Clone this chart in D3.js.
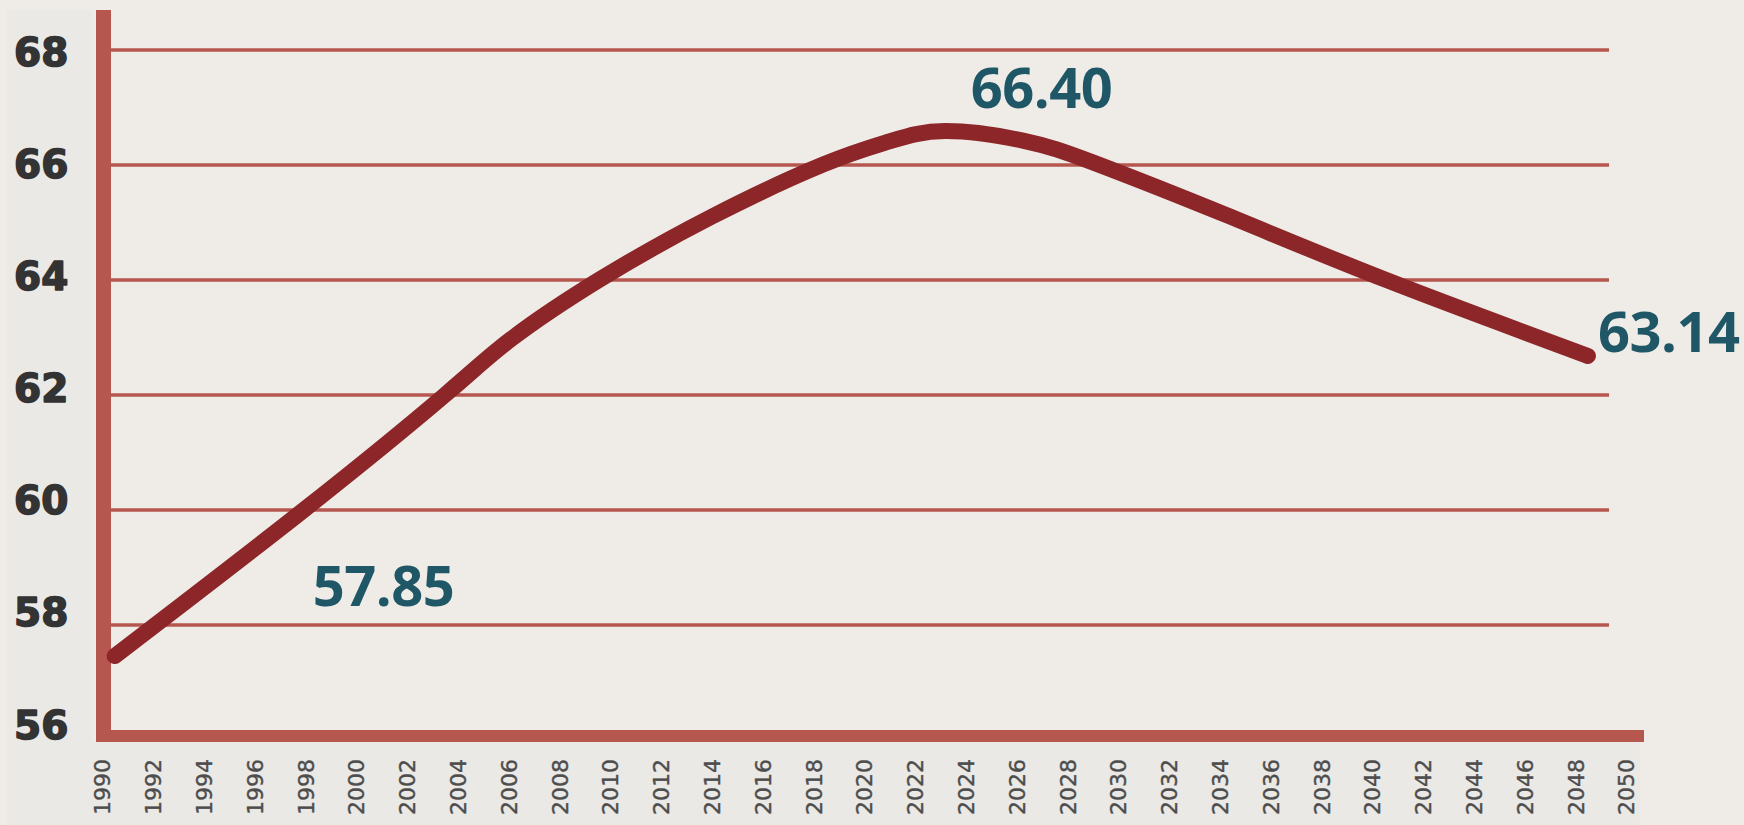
<!DOCTYPE html>
<html>
<head>
<meta charset="utf-8">
<script src="https://cdn.jsdelivr.net/npm/d3@7"></script>
<style>
  html, body { margin: 0; padding: 0; background: #efece8; }
  svg { display: block; }
</style>
</head>
<body>
<svg id="chart" width="1744" height="825"></svg>
<script>
// ---- data ----
const years  = [1990.5, 1998.0, 2003.5, 2006.1, 2009.6, 2014.0, 2018.4, 2021.0, 2023.2, 2026.3, 2029.1, 2034.2, 2040.5, 2048.5];
const values = [57.46, 60.02, 62.0, 62.97, 64.01, 65.10, 66.01, 66.41, 66.59, 66.42, 66.03, 65.14, 64.01, 62.68];
const yTicks = [56, 58, 60, 62, 64, 66, 68];
const xTicks = [1990,1992,1994,1996,1998,2000,2002,2004,2006,2008,2010,2012,2014,2016,2018,2020,2022,2024,2026,2028,2030,2032,2034,2036,2038,2040,2042,2044,2046,2048,2050];
const annoText  = ["57.85", "66.40", "63.14"];
const annoYear  = [1998.3, 2024.2, 2048.9];
const annoValue = [58.33, 66.99, 62.75];

// ---- layout ----
const svg = d3.select("#chart");
const W = 1744, H = 825;
const x = d3.scaleLinear().domain([1990, 2050]).range([102, 1626]);
const y = d3.scaleLinear().domain([56, 68]).range([740, 50]);
const yLab = d3.scaleLinear().domain([56, 68]).range([724, 51]);

const axisColor = "#b6574f";
const lineColor = "#8c2628";
const teal = "#1f5767";

// background bands
svg.append("rect").attr("x", 0).attr("y", 0).attr("width", W).attr("height", H).attr("fill", "#efece8");
svg.append("rect").attr("x", 7).attr("y", 10).attr("width", 85).attr("height", 732).attr("fill", "#ebe9e6");
svg.append("rect").attr("x", 7).attr("y", 742).attr("width", 1633).attr("height", H - 742).attr("fill", "#ebe9e6");

// gridlines
svg.append("g").selectAll("line")
  .data(yTicks.filter(d => d > 56))
  .join("line")
  .attr("x1", 108).attr("x2", 1609)
  .attr("y1", d => y(d)).attr("y2", d => y(d))
  .attr("stroke", axisColor).attr("stroke-width", 3.5);

// axis bars
svg.append("rect").attr("x", 96).attr("y", 10).attr("width", 15).attr("height", 732).attr("fill", axisColor);
svg.append("rect").attr("x", 96).attr("y", y(56) - 10).attr("width", 1548).attr("height", 12).attr("fill", axisColor);

// y labels
const yAxis = d3.axisLeft(yLab).tickValues(yTicks).tickSize(0).tickFormat(d3.format("d"));
const gy = svg.append("g").attr("transform", "translate(14,0)").call(yAxis);
gy.select(".domain").remove();
gy.selectAll("text")
  .attr("x", 0)
  .attr("text-anchor", "start")
  .attr("dy", "0.36em")
  .style("font-family", "'DejaVu Sans', sans-serif")
  .style("font-weight", "bold")
  .style("font-size", "39px")
  .attr("fill", "#333333")
  .attr("stroke", "#333333")
  .attr("stroke-width", 1.6)
  .attr("stroke-linejoin", "round");

// x labels
const xAxis = d3.axisBottom(x).tickValues(xTicks).tickSize(0).tickFormat(d3.format("d"));
const gx = svg.append("g").attr("transform", "translate(0,815)").call(xAxis);
gx.select(".domain").remove();
gx.selectAll("text")
  .attr("transform", "rotate(-90)")
  .attr("x", 0).attr("y", 0)
  .attr("dy", "0.36em")
  .attr("text-anchor", "start")
  .style("font-family", "'DejaVu Sans', sans-serif")
  .style("font-size", "22px")
  .attr("fill", "#4d4d4d")
  .attr("stroke", "#4d4d4d")
  .attr("stroke-width", 0.4);

// line
const pts = years.map((d, i) => [d, values[i]]);
const line = d3.line().x(d => x(d[0])).y(d => y(d[1])).curve(d3.curveNatural);
svg.append("path")
  .attr("d", line(pts))
  .attr("fill", "none")
  .attr("stroke", lineColor)
  .attr("stroke-width", 16)
  .attr("stroke-linecap", "round")
  .attr("stroke-linejoin", "round");

// annotations
svg.append("g").selectAll("text")
  .data(annoText)
  .join("text")
  .attr("x", (d, i) => x(annoYear[i]))
  .attr("y", (d, i) => y(annoValue[i]))
  .attr("text-anchor", "start")
  .style("font-family", "'Open Sans', sans-serif")
  .style("font-weight", "700")
  .style("font-size", "56px")
  .style("letter-spacing", "-0.5px")
  .attr("fill", teal)
  .text(d => d);
</script>
</body>
</html>
